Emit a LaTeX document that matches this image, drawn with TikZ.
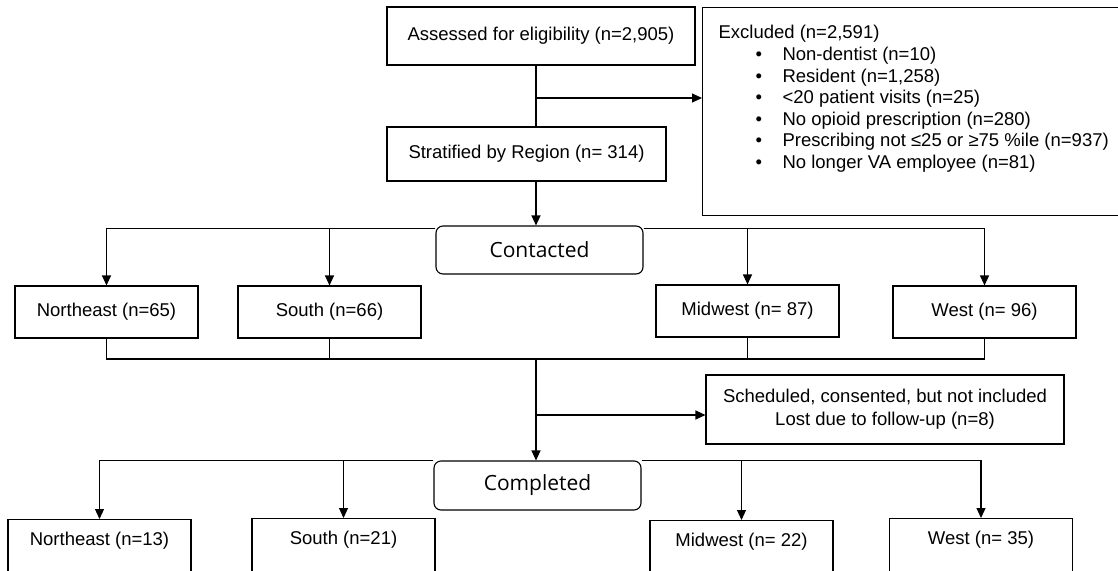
\documentclass[tikz,border=0pt]{standalone}
\usepackage{fontspec}
\setmainfont{Liberation Sans}
\newfontfamily\stagefont{Open Sans}
\usetikzlibrary{arrows.meta}

\tikzset{
  regbox/.style={draw, fill=white, minimum width=183pt, minimum height=52pt,
    font=\fontsize{18.5}{21.6}\selectfont},
  cutbox/.style={regbox, anchor=north, minimum height=0pt, text height=20pt,
    text depth=34pt, inner ysep=6pt},
  stagebox/.style={draw, fill=white, rounded corners=7pt, minimum width=207pt,
    minimum height=48pt, font=\stagefont\fontsize{21}{25}\selectfont},
  arr/.style={-{Triangle[length=10pt,width=9pt]}},
}

\begin{document}
\begin{tikzpicture}[x=1pt, y=-1pt, line width=1.1pt]
  \useasboundingbox (0,0) rectangle (1118,570);
  \clip (0,0) rectangle (1118,570);

  % screening
  \node[regbox, minimum width=308pt, minimum height=58pt] (assess) at (541,36) {Assessed for eligibility (n=2,905)};
  \node[regbox, minimum width=279pt, minimum height=54pt] (strat) at (526.5,154) {Stratified by Region (n= 314)};
  \node[regbox, anchor=north west, inner xsep=16pt, inner ysep=18pt] (excl) at (702,7) {%
    \begin{minipage}[t][172pt][t]{420pt}
    Excluded (n=2,591)\\
    \hspace*{37pt}\makebox[27pt][l]{\textbullet}Non-dentist (n=10)\\
    \hspace*{37pt}\makebox[27pt][l]{\textbullet}Resident (n=1,258)\\
    \hspace*{37pt}\makebox[27pt][l]{\textbullet}<20 patient visits (n=25)\\
    \hspace*{37pt}\makebox[27pt][l]{\textbullet}No opioid prescription (n=280)\\
    \hspace*{37pt}\makebox[27pt][l]{\textbullet}Prescribing not ≤25 or ≥75 \%ile (n=937)\\
    \hspace*{37pt}\makebox[27pt][l]{\textbullet}No longer VA employee (n=81)
    \end{minipage}};

  % contacted
  \node[stagebox] (cont) at (539.5,250) {Contacted};
  \node[regbox] (ne1) at (106.5,312) {Northeast (n=65)};
  \node[regbox] (so1) at (329.5,312) {South (n=66)};
  \node[regbox] (mw1) at (747.5,311) {Midwest (n= 87)};
  \node[regbox] (we1) at (984.5,312) {West (n= 96)};

  \node[regbox, minimum width=358pt, minimum height=69pt, align=center,
    font=\fontsize{18.5}{23}\selectfont] (sched) at (885,409.5)
    {Scheduled, consented, but not included\\Lost due to follow-up (n=8)};

  % completed
  \node[stagebox, minimum height=49pt] (comp) at (537.5,485.5) {Completed};
  \node[cutbox] (ne2) at (99.5,519) {Northeast (n=13)};
  \node[cutbox] (so2) at (343.5,518) {South (n=21)};
  \node[cutbox] (mw2) at (741.5,520) {Midwest (n= 22)};
  \node[cutbox] (we2) at (981,518) {West (n= 35)};

  \coordinate (s1) at (536,98);
  \coordinate (j1) at (536,359);
  \coordinate (s2) at (536,415);

  \draw (assess.south -| s1) -- (strat.north -| s1);
  \draw[arr] (strat.south -| s1) -- (cont.north -| s1);
  \draw[arr] (s1) -- (s1 -| excl.west);
  \foreach \n in {ne1,so1}
     \draw[arr] ([yshift=-3pt]cont.north west) -| (\n.north);
  \foreach \n in {mw1,we1}
     \draw[arr] ([yshift=-3pt]cont.north east) -| (\n.north);
  \foreach \n in {ne1,so1,mw1,we1}
     \draw (\n.south) |- (j1);
  \draw[arr] (j1) -- (comp.north -| j1);
  \draw[arr] (s2) -- (s2 -| sched.west);
  \foreach \n in {ne2,so2}
     \draw[arr] (comp.north west) -| (\n.north);
  \foreach \n in {mw2,we2}
     \draw[arr] (comp.north east) -| (\n.north);
\end{tikzpicture}
\end{document}
